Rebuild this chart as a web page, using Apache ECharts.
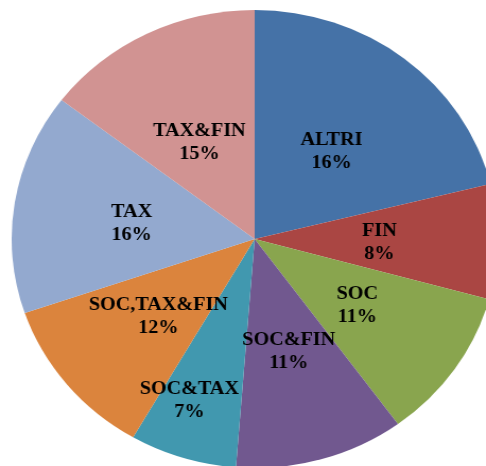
<!DOCTYPE html>
<html>
<head>
<meta charset="utf-8">
<script src="https://cdn.jsdelivr.net/npm/echarts@6/dist/echarts.min.js"></script>
<style>
html,body{margin:0;padding:0;background:#fff;overflow:hidden;}
#wrap{width:486px;height:466px;overflow:hidden;position:relative;}
#chart{width:458px;height:466px;transform:scaleX(1.061);transform-origin:0 0;}
</style>
</head>
<body>
<div id="wrap"><div id="chart"></div></div>
<script>
const categories = ['ALTRI', 'FIN', 'SOC', 'SOC&FIN', 'SOC&TAX', 'SOC,TAX&FIN', 'TAX', 'TAX&FIN'];
const sliceValues = [21.1, 8.1, 10.7, 11.25, 7.1, 11.4, 15.6, 14.6];
const labelPct = ['16%', '8%', '11%', '11%', '7%', '12%', '16%', '15%'];
const colors = ['#4572A7', '#AA4643', '#89A54E', '#71588F', '#4198AF', '#DB843D', '#93A9CF', '#D19392'];
const outerLabelItems = ['SOC&TAX'];
const labelOffsets = [[0, 5], [0, 2], [0, 0], [0, 0], [-10, -5], [0, 3], [0, 3], [0, 9]];

const chart = echarts.init(document.getElementById('chart'), null, {renderer: 'canvas'});
function labelCfg(){
  return {
    position: 'inside',
    formatter: p => p.name + '\n' + labelPct[p.dataIndex],
    fontFamily: 'serif',
    fontWeight: 'bold',
    fontSize: 19,
    lineHeight: 23,
    color: '#000'
  };
}
const mainData = categories.map((c, i) => ({
  name: c,
  value: sliceValues[i],
  itemStyle: {color: colors[i]},
  label: {show: outerLabelItems.indexOf(c) < 0, offset: labelOffsets[i]}
}));
const ghostData = categories.map((c, i) => ({
  name: c,
  value: sliceValues[i],
  itemStyle: {color: 'rgba(0,0,0,0)'},
  label: {show: outerLabelItems.indexOf(c) >= 0, offset: labelOffsets[i]}
}));
chart.setOption({
  animation: false,
  backgroundColor: '#fff',
  textStyle: {fontFamily: 'serif'},
  series: [
    {
      type: 'pie',
      center: [240, 239],
      radius: [0, 229],
      startAngle: 90,
      clockwise: true,
      silent: true,
      itemStyle: {borderWidth: 0},
      label: labelCfg(),
      labelLine: {show: false},
      data: mainData
    },
    {
      type: 'pie',
      center: [240, 239],
      radius: [130, 212],
      startAngle: 90,
      clockwise: true,
      silent: true,
      z: 5,
      itemStyle: {borderWidth: 0},
      label: labelCfg(),
      labelLine: {show: false},
      data: ghostData
    }
  ]
});
</script>
</body>
</html>
